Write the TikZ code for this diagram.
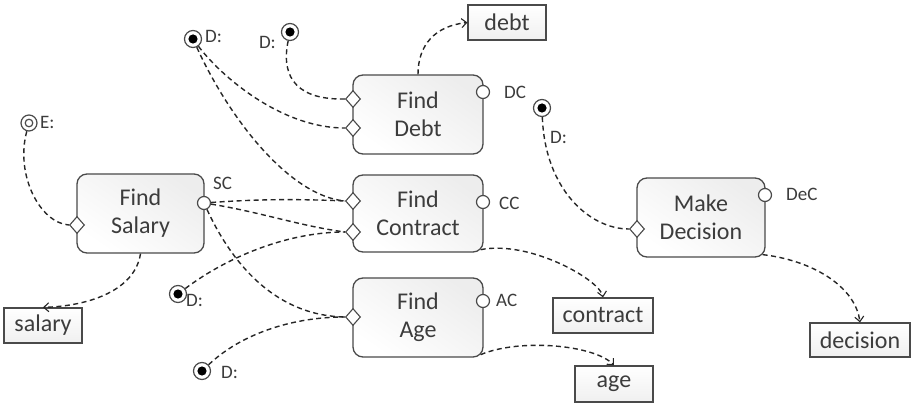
\documentclass[tikz,border=0pt]{standalone}
\usepackage{fontspec}
\setmainfont{Carlito}
\usetikzlibrary{shapes.geometric,arrows.meta,shadings}
\definecolor{ink}{HTML}{3C3C3C}
\definecolor{edge}{HTML}{4A4A4A}
\begin{document}
\begin{tikzpicture}[x=1pt,y=-1pt,
  task/.style={draw=edge,line width=1.3pt,rounded corners=10pt,
    top color=gray!14,bottom color=white,shading angle=-35,
    align=center,text=ink,inner sep=0pt,
    font=\fontsize{24}{28}\selectfont},
  data/.style={draw=edge,line width=1.2pt,top color=white,bottom color=gray!12,
    text=ink,inner sep=0pt,font=\fontsize{24}{26}\selectfont},
  port/.style={circle,draw=edge,line width=1.2pt,fill=white,minimum size=13pt,inner sep=0pt},
  slot/.style={diamond,draw=edge,line width=1.1pt,fill=white,minimum width=15pt,
    minimum height=17pt,inner sep=0pt},
  pin/.style={circle,draw=edge,line width=1.2pt,fill=white,minimum size=17pt,inner sep=0pt,
    path picture={\fill[black] (path picture bounding box.center) circle (4.6pt);}},
  epin/.style={circle,draw=edge,line width=1.2pt,fill=white,minimum size=16pt,inner sep=0pt,
    path picture={\draw[edge,line width=1.2pt] (path picture bounding box.center) circle (3.8pt);}},
  lbl/.style={text=ink,inner sep=0pt,font=\fontsize{19}{21}\selectfont},
  flow/.style={draw=black!85,line width=1.4pt,dash pattern=on 5pt off 3.5pt},
  produce/.style={flow,-{Straight Barb[length=5pt,width=9pt,line width=1.1pt]}}
]
\useasboundingbox (0,0) rectangle (911,403);

% activity boxes
\node[task,minimum width=130pt,minimum height=79pt] (debtT) at (418,114.5) {Find\\Debt};
\node[task,minimum width=130pt,minimum height=77pt] (conT) at (418,213.5) {Find\\Contract};
\node[task,minimum width=130pt,minimum height=79pt] (ageT) at (418,317.5) {Find\\Age};
\node[task,minimum width=127pt,minimum height=79pt] (salT) at (140.5,213.5) {Find\\Salary};
\node[task,minimum width=128pt,minimum height=79pt] (decT) at (701,217.5) {Make\\Decision};

% data items
\node[data,minimum width=78pt,minimum height=35pt] (debtD) at (507,22.5) {debt};
\node[data,minimum width=78pt,minimum height=35pt] (salD) at (43,325.5) {salary};
\node[data,minimum width=100pt,minimum height=35pt] (conD) at (603,315.5) {contract};
\node[data,minimum width=78pt,minimum height=36pt] (ageD) at (614,384) {age};
\node[data,minimum width=100pt,minimum height=34pt] (decD) at (860,340) {decision};

% output ports
\node[port] (debtO) at (483,92) {};
\node[port] (conO) at (483,202) {};
\node[port] (ageO) at (483,301) {};
\node[port] (salO) at (204,203) {};
\node[port] (decO) at (765,195) {};
\node[lbl,anchor=west] at (504,92) {DC};
\node[lbl,anchor=west] at (499,203) {CC};
\node[lbl,anchor=west] at (496,300) {AC};
\node[lbl,anchor=west] at (786,194) {DeC};
\node[lbl,anchor=west] at (213,183) {SC};

% input slots
\node[slot] (debtI1) at (353,99) {};
\node[slot] (debtI2) at (353,128) {};
\node[slot] (conI1) at (353,201) {};
\node[slot] (conI2) at (353,232) {};
\node[slot] (ageI) at (353,317) {};
\node[slot] (salI) at (77,225) {};
\node[slot] (decI) at (637,229) {};

% sources
\node[pin] (d1) at (193,39) {};
\node[lbl,anchor=west] at (205,36) {D:};
\node[pin] (d2) at (290,32) {};
\node[lbl,anchor=east] at (276,42) {D:};
\node[epin] (e1) at (29,123) {};
\node[lbl,anchor=west] at (40,122) {E:};
\node[pin] (d3) at (542,108) {};
\node[lbl,anchor=west] at (550,137) {D:};
\node[pin] (d4) at (178,294) {};
\node[lbl,anchor=west] at (186,300) {D:};
\node[pin] (d5) at (202,371) {};
\node[lbl,anchor=west] at (221,372) {D:};

% inputs
\draw[flow] (d1) .. controls (220,75) and (280,128) .. (debtI2.west);
\draw[flow] (d1) .. controls (230,120) and (290,196) .. (conI1.west);
\draw[flow] (d2) .. controls (280,80) and (300,100) .. (debtI1.west);
\draw[flow] (e1) .. controls (15,175) and (40,223) .. (salI.west);
\draw[flow] (salO) .. controls (260,199) and (300,199) .. (conI1.west);
\draw[flow] (salO) .. controls (260,212) and (300,226) .. (conI2.west);
\draw[flow] (salO) .. controls (235,270) and (280,316) .. (ageI.west);
\draw[flow] (d4) .. controls (230,255) and (290,232) .. (conI2.west);
\draw[flow] (d5) .. controls (240,335) and (290,317) .. (ageI.west);
\draw[flow] (d3) .. controls (545,190) and (590,229) .. (decI.west);

% outputs
\draw[produce] (debtT.north) .. controls (418,45) and (435,26) .. (debtD.west);
\draw[produce] (salT.south) .. controls (135,290) and (90,306) .. (salD.north);
\draw[produce] ([xshift=-3pt,yshift=3pt]conT.south east) .. controls (530,240) and (600,280) .. (conD.north);
\draw[produce] ([xshift=-3pt,yshift=3pt]ageT.south east) .. controls (520,338) and (595,345) .. (ageD.north);
\draw[produce] ([xshift=-3pt,yshift=3pt]decT.south east) .. controls (810,260) and (855,285) .. (decD.north);
\end{tikzpicture}
\end{document}
